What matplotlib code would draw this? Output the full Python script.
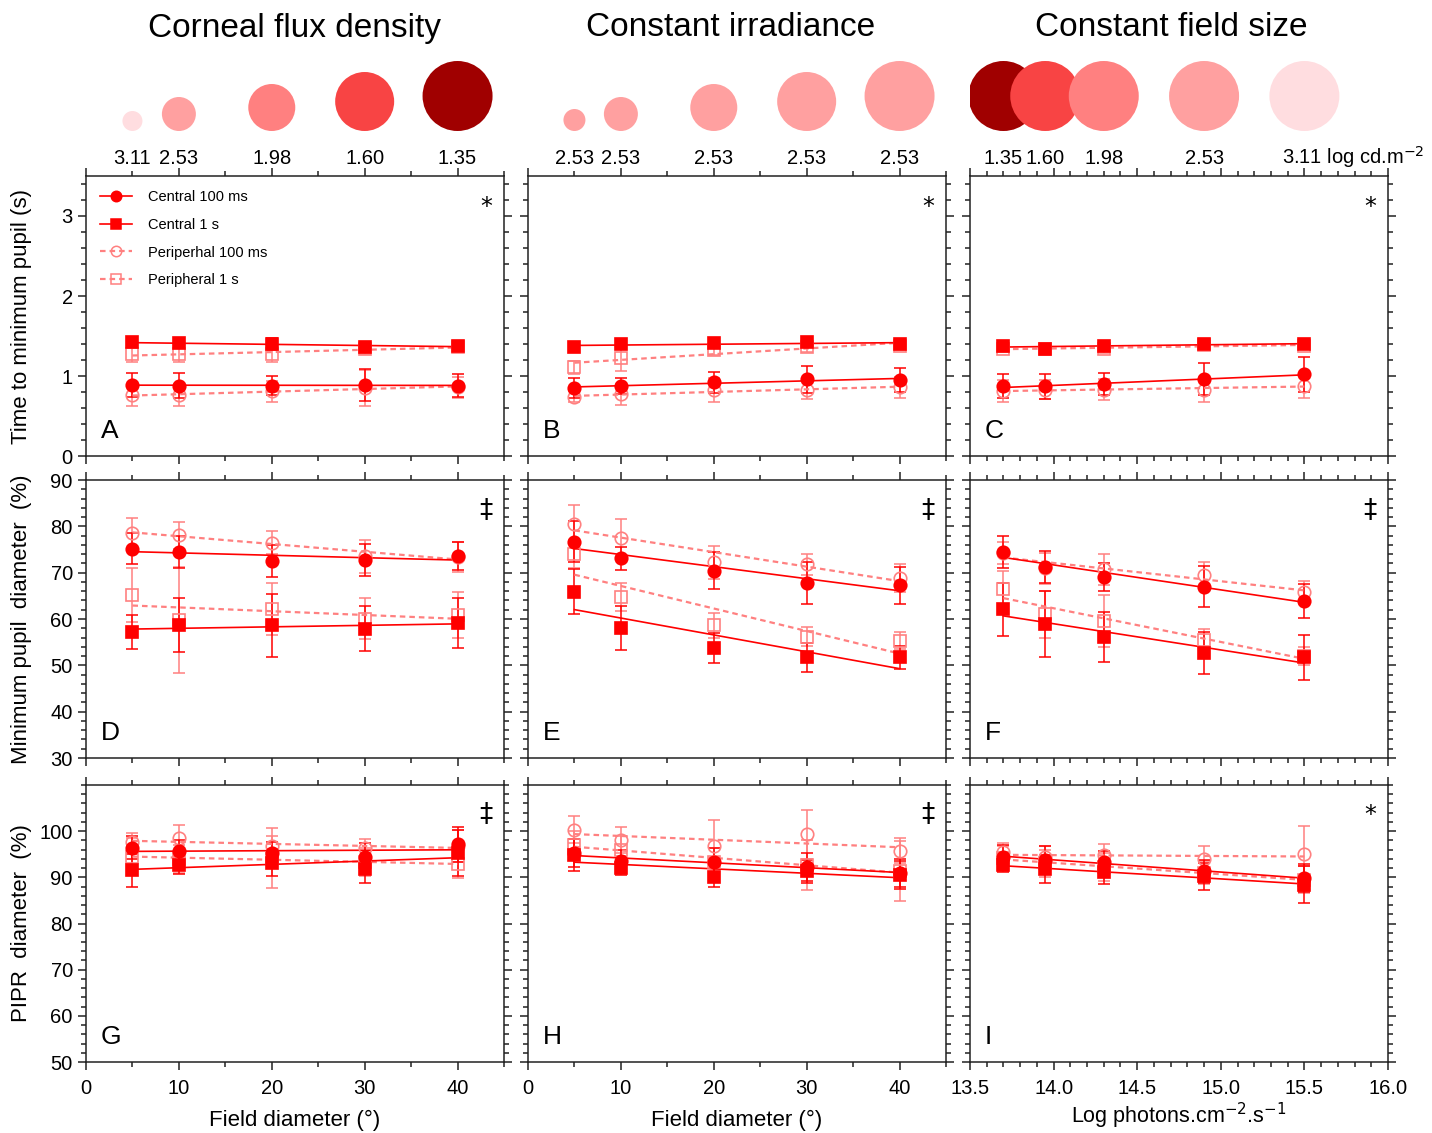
import numpy as np
import matplotlib.pyplot as plt
from matplotlib.ticker import MultipleLocator, FormatStrFormatter
from matplotlib.lines import Line2D
from matplotlib.transforms import blended_transform_factory

plt.rcParams['font.family'] = ['Liberation Sans', 'DejaVu Sans']

# stimulus conditions
field = [5, 10, 20, 30, 40]                     # field diameter (deg)
photons = [13.7, 13.95, 14.3, 14.9, 15.5]       # log photons.cm-2.s-1
lum_labels = ['3.11', '2.53', '1.98', '1.60', '1.35']   # log cd.m-2 for field 5..40
series_names = ['Central 100 ms', 'Central 1 s', 'Periperhal 100 ms', 'Peripheral 1 s']

# means / SEM per panel, rows: central 100 ms, central 1 s, peripheral 100 ms, peripheral 1 s
A_mean = [[0.89, 0.88, 0.88, 0.89, 0.88],
          [1.42, 1.41, 1.40, 1.36, 1.38],
          [0.76, 0.76, 0.81, 0.85, 0.86],
          [1.27, 1.27, 1.27, 1.34, 1.36]]
A_err = [[0.15, 0.16, 0.12, 0.20, 0.14],
         [0.05, 0.05, 0.07, 0.06, 0.06],
         [0.13, 0.14, 0.13, 0.22, 0.13],
         [0.09, 0.09, 0.09, 0.07, 0.06]]

B_mean = [[0.85, 0.88, 0.92, 0.96, 0.95],
          [1.36, 1.40, 1.41, 1.42, 1.40],
          [0.74, 0.77, 0.82, 0.83, 0.86],
          [1.11, 1.23, 1.32, 1.36, 1.38]]
B_err = [[0.12, 0.10, 0.13, 0.17, 0.15],
         [0.04, 0.05, 0.05, 0.06, 0.05],
         [0.07, 0.13, 0.15, 0.12, 0.13],
         [0.08, 0.17, 0.06, 0.06, 0.05]]

C_mean = [[0.87, 0.87, 0.90, 0.96, 1.02],
          [1.38, 1.34, 1.38, 1.40, 1.40],
          [0.81, 0.83, 0.83, 0.83, 0.88],
          [1.34, 1.34, 1.34, 1.39, 1.38]]
C_err = [[0.15, 0.16, 0.14, 0.20, 0.22],
         [0.05, 0.04, 0.05, 0.05, 0.06],
         [0.14, 0.12, 0.13, 0.16, 0.16],
         [0.04, 0.04, 0.05, 0.04, 0.04]]

D_mean = [[75.2, 74.5, 72.5, 72.7, 73.6],
          [57.2, 58.7, 58.7, 57.9, 59.2],
          [78.6, 78.1, 76.5, 73.5, 73.4],
          [65.2, 59.8, 62.1, 60.1, 60.8]]
D_err = [[3.4, 3.5, 3.4, 3.4, 3.0],
         [3.6, 5.8, 6.8, 4.9, 5.4],
         [3.2, 2.9, 2.4, 3.6, 3.2],
         [5.8, 11.5, 5.6, 4.5, 5.0]]

E_mean = [[76.7, 73.1, 70.4, 67.7, 67.3],
          [65.9, 58.0, 53.7, 51.7, 51.7],
          [80.4, 77.4, 72.2, 71.8, 68.8],
          [74.0, 64.8, 58.6, 56.2, 55.3]]
E_err = [[4.5, 2.5, 4.0, 4.5, 4.0],
         [4.8, 4.7, 3.2, 3.2, 2.5],
         [4.2, 4.2, 3.5, 2.3, 3.0],
         [3.0, 3.0, 2.6, 2.0, 1.8]]

F_mean = [[74.5, 71.2, 69.1, 67.0, 63.9],
          [62.1, 58.9, 56.2, 52.7, 51.7],
          [74.3, 70.9, 70.7, 69.5, 65.8],
          [66.4, 61.0, 59.6, 55.5, 52.0]]
F_err = [[3.4, 3.4, 3.0, 4.5, 3.6],
         [5.7, 7.2, 5.4, 4.5, 4.9],
         [2.4, 3.4, 3.3, 2.9, 2.5],
         [4.0, 5.1, 5.6, 2.3, 2.0]]

G_mean = [[96.4, 95.6, 95.2, 94.5, 97.2],
          [91.5, 92.7, 93.2, 91.7, 95.3],
          [97.6, 98.5, 96.8, 96.3, 96.8],
          [94.5, 94.0, 94.2, 93.3, 92.8]]
G_err = [[2.5, 2.5, 2.5, 3.0, 3.8],
         [3.5, 2.0, 3.0, 3.0, 5.0],
         [2.0, 2.8, 2.2, 2.0, 3.5],
         [4.0, 3.0, 6.5, 3.0, 3.0]]

H_mean = [[95.2, 93.5, 93.3, 92.2, 91.0],
          [94.8, 92.1, 90.0, 91.3, 90.5],
          [100.3, 98.1, 96.8, 99.3, 95.8],
          [97.0, 95.9, 93.4, 92.7, 91.3]]
H_err = [[3.0, 2.5, 3.0, 3.0, 3.0],
         [3.5, 1.5, 2.0, 2.5, 3.0],
         [2.9, 2.9, 5.6, 5.3, 2.7],
         [3.0, 3.0, 3.0, 5.4, 6.5]]

I_mean = [[94.5, 93.8, 93.3, 91.3, 89.8],
          [92.6, 91.8, 91.1, 90.2, 88.4],
          [95.5, 94.3, 94.8, 94.0, 95.0],
          [94.2, 93.0, 92.2, 91.0, 89.5]]
I_err = [[2.5, 3.0, 2.5, 2.5, 3.0],
         [1.5, 3.0, 2.5, 3.0, 4.0],
         [2.0, 2.5, 2.5, 2.8, 6.1],
         [2.5, 3.0, 3.0, 2.5, 3.0]]

panels = [[(A_mean, A_err, 'A', '*'), (B_mean, B_err, 'B', '*'), (C_mean, C_err, 'C', '*')],
          [(D_mean, D_err, 'D', '‡'), (E_mean, E_err, 'E', '‡'), (F_mean, F_err, 'F', '‡')],
          [(G_mean, G_err, 'G', '‡'), (H_mean, H_err, 'H', '‡'), (I_mean, I_err, 'I', '*')]]

RED = '#FF0000'
PINK = '#FF8080'
styles = [dict(marker='o', color=RED, mfc=RED, ls='-', lw=1.2),
          dict(marker='s', color=RED, mfc=RED, ls='-', lw=1.2),
          dict(marker='o', color=PINK, mfc='none', ls=(0, (2.5, 1.8)), lw=1.6),
          dict(marker='s', color=PINK, mfc='none', ls=(0, (2.5, 1.8)), lw=1.6)]

# icon circles above each column (diameters in px, colours)
dot_px = [[20, 34, 47, 59, 70], [22, 34, 47, 59, 70], [70, 70, 70, 70, 70]]
flux_cols = ['#FFDDE0', '#FFA0A0', '#FF8080', '#F84444', '#A00000']
dot_cols = [flux_cols, ['#FFA0A0'] * 5, flux_cols[::-1]]

W, H = 1432, 1133
fig = plt.figure(figsize=(W / 100, H / 100), dpi=100)

col_left = [86, 528, 970]
col_w = 418
rows = [(176, 456), (480, 758), (785, 1062)]
xlims = [(0, 45), (0, 45), (13.5, 16.0)]
col_x = [field, field, photons]
titles = ['Corneal flux density', 'Constant irradiance', 'Constant field size']
title_cx = [295, 731, 1171]
top_labels = [lum_labels, ['2.53'] * 5, lum_labels[::-1]]
ylabels = ['Time to minimum pupil (s)', 'Minimum pupil  diameter  (%)', 'PIPR  diameter  (%)']


def px_axes(left, top, width, height):
    return fig.add_axes([left / W, 1 - (top + height) / H, width / W, height / H])


for c in range(3):
    x = np.array(col_x[c])
    for r in range(3):
        top, bot = rows[r]
        ax = px_axes(col_left[c], top, col_w, bot - top)
        mean, err, letter, sig = panels[r][c]

        for i in [2, 3, 0, 1]:
            st = styles[i]
            y = np.array(mean[i])
            ax.errorbar(x, y, yerr=err[i], fmt='none', ecolor=st['color'],
                        elinewidth=1.1, capsize=4.5, capthick=1.1, zorder=2)
            fit = np.polyfit(x, y, 1)
            xx = np.array([x[0], x[-1]])
            ax.plot(xx, np.polyval(fit, xx), color=st['color'], ls=st['ls'],
                    lw=st['lw'], zorder=3)
            ax.plot(x, y, ls='none', marker=st['marker'], ms=9, mfc=st['mfc'],
                    mec=st['color'], mew=1.2, zorder=4)

        ax.set_xlim(*xlims[c])
        if r == 0:
            ax.set_ylim(0, 3.5)
            ax.set_yticks([0, 1, 2, 3])
            ax.yaxis.set_minor_locator(MultipleLocator(0.2))
        elif r == 1:
            ax.set_ylim(30, 90)
            ax.set_yticks(np.arange(30, 91, 10))
            ax.yaxis.set_minor_locator(MultipleLocator(2))
        else:
            ax.set_ylim(50, 110)
            ax.set_yticks(np.arange(50, 101, 10))
            ax.yaxis.set_minor_locator(MultipleLocator(2))

        if c < 2:
            ax.xaxis.set_major_locator(MultipleLocator(10))
            ax.xaxis.set_minor_locator(MultipleLocator(5))
        else:
            ax.xaxis.set_major_locator(MultipleLocator(0.5))
            ax.xaxis.set_minor_locator(MultipleLocator(0.1))
            ax.xaxis.set_major_formatter(FormatStrFormatter('%.1f'))

        ax.tick_params(which='both', direction='out', top=True, right=True,
                       labelsize=14.5, width=1.1, colors='#222222', labelcolor='black')
        ax.tick_params(which='major', length=6)
        ax.tick_params(which='minor', length=3.5)
        ax.tick_params(axis='x', pad=6)
        if c > 0:
            ax.tick_params(labelleft=False)
        if r < 2:
            ax.tick_params(labelbottom=False)
        for sp in ax.spines.values():
            sp.set_linewidth(1.1)
            sp.set_color('#222222')

        ax.text(0.035, 0.09, letter, transform=ax.transAxes, fontsize=19,
                ha='left', va='center')
        ax.text(0.957, 0.89, sig, transform=ax.transAxes,
                fontsize=17 if sig == '*' else 19,
                ha='center', va='center', family='DejaVu Sans')

        if r == 0:
            trans = blended_transform_factory(ax.transData, ax.transAxes)
            for k, lab in enumerate(top_labels[c]):
                if c == 2 and k == 4:
                    ax.annotate(lab + ' log cd.m$^{-2}$', xy=(x[k], 1.0), xycoords=trans,
                                xytext=(-16, 8.5), textcoords='offset points',
                                ha='left', va='baseline', fontsize=14.5)
                else:
                    ax.annotate(lab, xy=(x[k], 1.0), xycoords=trans,
                                xytext=(0, 8.5), textcoords='offset points',
                                ha='center', va='baseline', fontsize=14.5)
            if c == 0:
                handles = [Line2D([], [], color=st['color'], ls=st['ls'], lw=st['lw'],
                                  marker=st['marker'], ms=7.5, mfc=st['mfc'],
                                  mec=st['color'], mew=1.1) for st in styles]
                ax.legend(handles, series_names, loc='upper left', frameon=False,
                          fontsize=10.5, handlelength=2.2, handletextpad=1.1,
                          labelspacing=0.95, borderaxespad=0.55)
        if r == 2:
            if c < 2:
                ax.set_xlabel('Field diameter (°)', fontsize=16, labelpad=9)
            else:
                ax.set_xlabel('Log photons.cm$^{-2}$.s$^{-1}$', fontsize=15.5, labelpad=2)

    # icon row
    dax = px_axes(col_left[c], 40, col_w, 100)
    dax.set_xlim(*xlims[c])
    dax.set_ylim(0, 100)
    dax.axis('off')
    d = np.array(dot_px[c])
    dax.scatter(x, 9 + d / 2, s=(d * 0.72) ** 2, c=dot_cols[c], linewidths=0)

    fig.text(title_cx[c] / W, 1 - 28 / H, titles[c], fontsize=24,
             ha='center', va='center')

for r in range(3):
    top, bot = rows[r]
    fig.text(22 / W, 1 - (top + bot) / 2 / H, ylabels[r], rotation=90,
             fontsize=16, ha='center', va='center')

fig.savefig('out.png', dpi=100)
